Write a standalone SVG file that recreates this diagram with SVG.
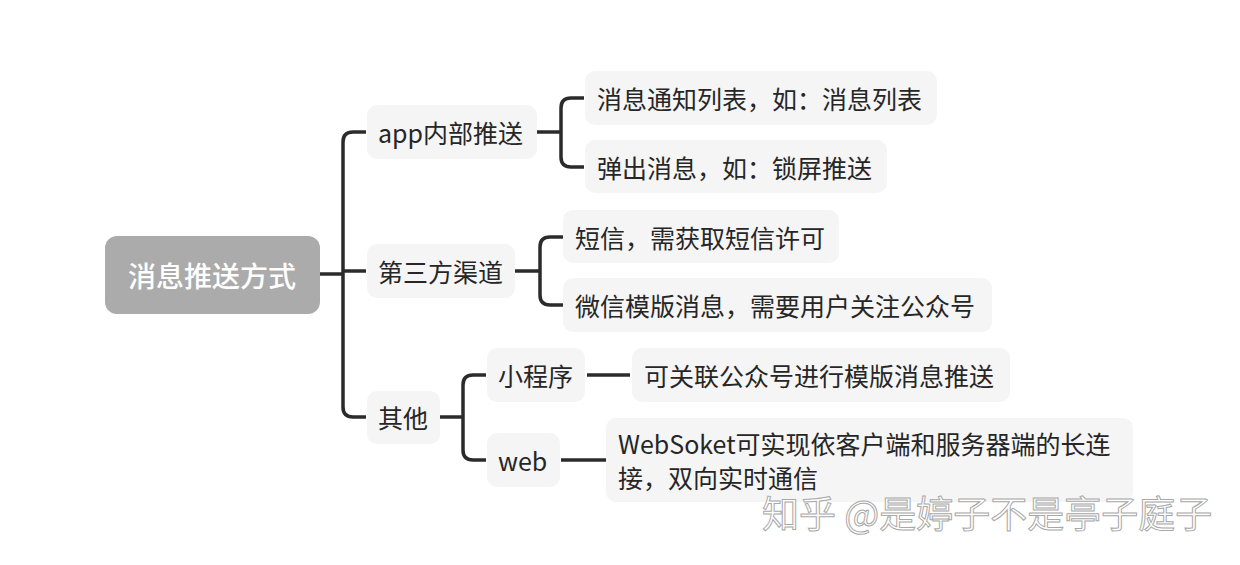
<svg xmlns="http://www.w3.org/2000/svg" width="1240" height="565" viewBox="0 0 1240 565">
<style>
.box{fill:#f5f5f5}
.t{font-family:"Noto Sans CJK SC","Noto Sans",sans-serif;font-size:25px;fill:#262626;dominant-baseline:central}
.root{font-family:"Noto Sans CJK SC","Noto Sans",sans-serif;font-size:28px;fill:#ffffff;dominant-baseline:central;font-weight:500}
.c{fill:none;stroke:#2b2b2b;stroke-width:3.5;stroke-linecap:butt}
.wm{font-family:"Noto Sans CJK SC","Noto Sans",sans-serif;font-size:37px;fill:#ffffff;stroke:#a8a8a8;stroke-width:1}
</style>
<rect width="1240" height="565" fill="#ffffff"/>
<g id="connectors">
<path class="c" d="M320 274 H343"/>
<path class="c" d="M366 132 H353 Q343 132 343 142 V407 Q343 417 353 417 H366"/>
<path class="c" d="M343 271 H366"/>
<path class="c" d="M537 132 H561"/>
<path class="c" d="M584 98 H571 Q561 98 561 108 V157 Q561 167 571 167 H584"/>
<path class="c" d="M515 271 H540"/>
<path class="c" d="M563 237 H550 Q540 237 540 247 V295 Q540 305 550 305 H563"/>
<path class="c" d="M440 417 H463"/>
<path class="c" d="M486 375 H473 Q463 375 463 385 V450 Q463 460 473 460 H486"/>
<path class="c" d="M587 375 H630"/>
<path class="c" d="M561 460 H606"/>
</g>
<g id="root"><rect x="105" y="236" width="215" height="78" rx="12" fill="#ababab"/><text class="root" x="212" y="275" text-anchor="middle">消息推送方式</text></g>
<g id="n-app"><rect class="box" x="367" y="105" width="170" height="54" rx="10"/><text class="t" x="378" y="132">app内部推送</text></g>
<g id="n-third"><rect class="box" x="367" y="244" width="148" height="54" rx="10"/><text class="t" x="378" y="271">第三方渠道</text></g>
<g id="n-other"><rect class="box" x="367" y="391" width="73" height="53" rx="10"/><text class="t" x="378" y="417">其他</text></g>
<g id="n-list"><rect class="box" x="585" y="71" width="352" height="54" rx="10"/><text class="t" x="597" y="98">消息通知列表，如：消息列表</text></g>
<g id="n-popup"><rect class="box" x="585" y="140" width="302" height="53" rx="10"/><text class="t" x="597" y="167">弹出消息，如：锁屏推送</text></g>
<g id="n-sms"><rect class="box" x="563" y="210" width="276" height="53" rx="10"/><text class="t" x="575" y="237">短信，需获取短信许可</text></g>
<g id="n-wechat"><rect class="box" x="563" y="278" width="429" height="54" rx="10"/><text class="t" x="575" y="305">微信模版消息，需要用户关注公众号</text></g>
<g id="n-mini"><rect class="box" x="487" y="348" width="98" height="54" rx="10"/><text class="t" x="498" y="375">小程序</text></g>
<g id="n-web"><rect class="box" x="487" y="433" width="73" height="54" rx="10"/><text class="t" x="498" y="460">web</text></g>
<g id="n-mini-desc"><rect class="box" x="632" y="348" width="378" height="54" rx="10"/><text class="t" x="644" y="375">可关联公众号进行模版消息推送</text></g>
<g id="n-web-desc"><rect class="box" x="606" y="418" width="527" height="84" rx="10"/><text class="t" x="618" y="443">WebSoket可实现依客户端和服务器端的长连</text><text class="t" x="618" y="477">接，双向实时通信</text></g>
<text class="wm" x="762" y="528">知乎 @是婷子不是亭子庭子</text>
</svg>
